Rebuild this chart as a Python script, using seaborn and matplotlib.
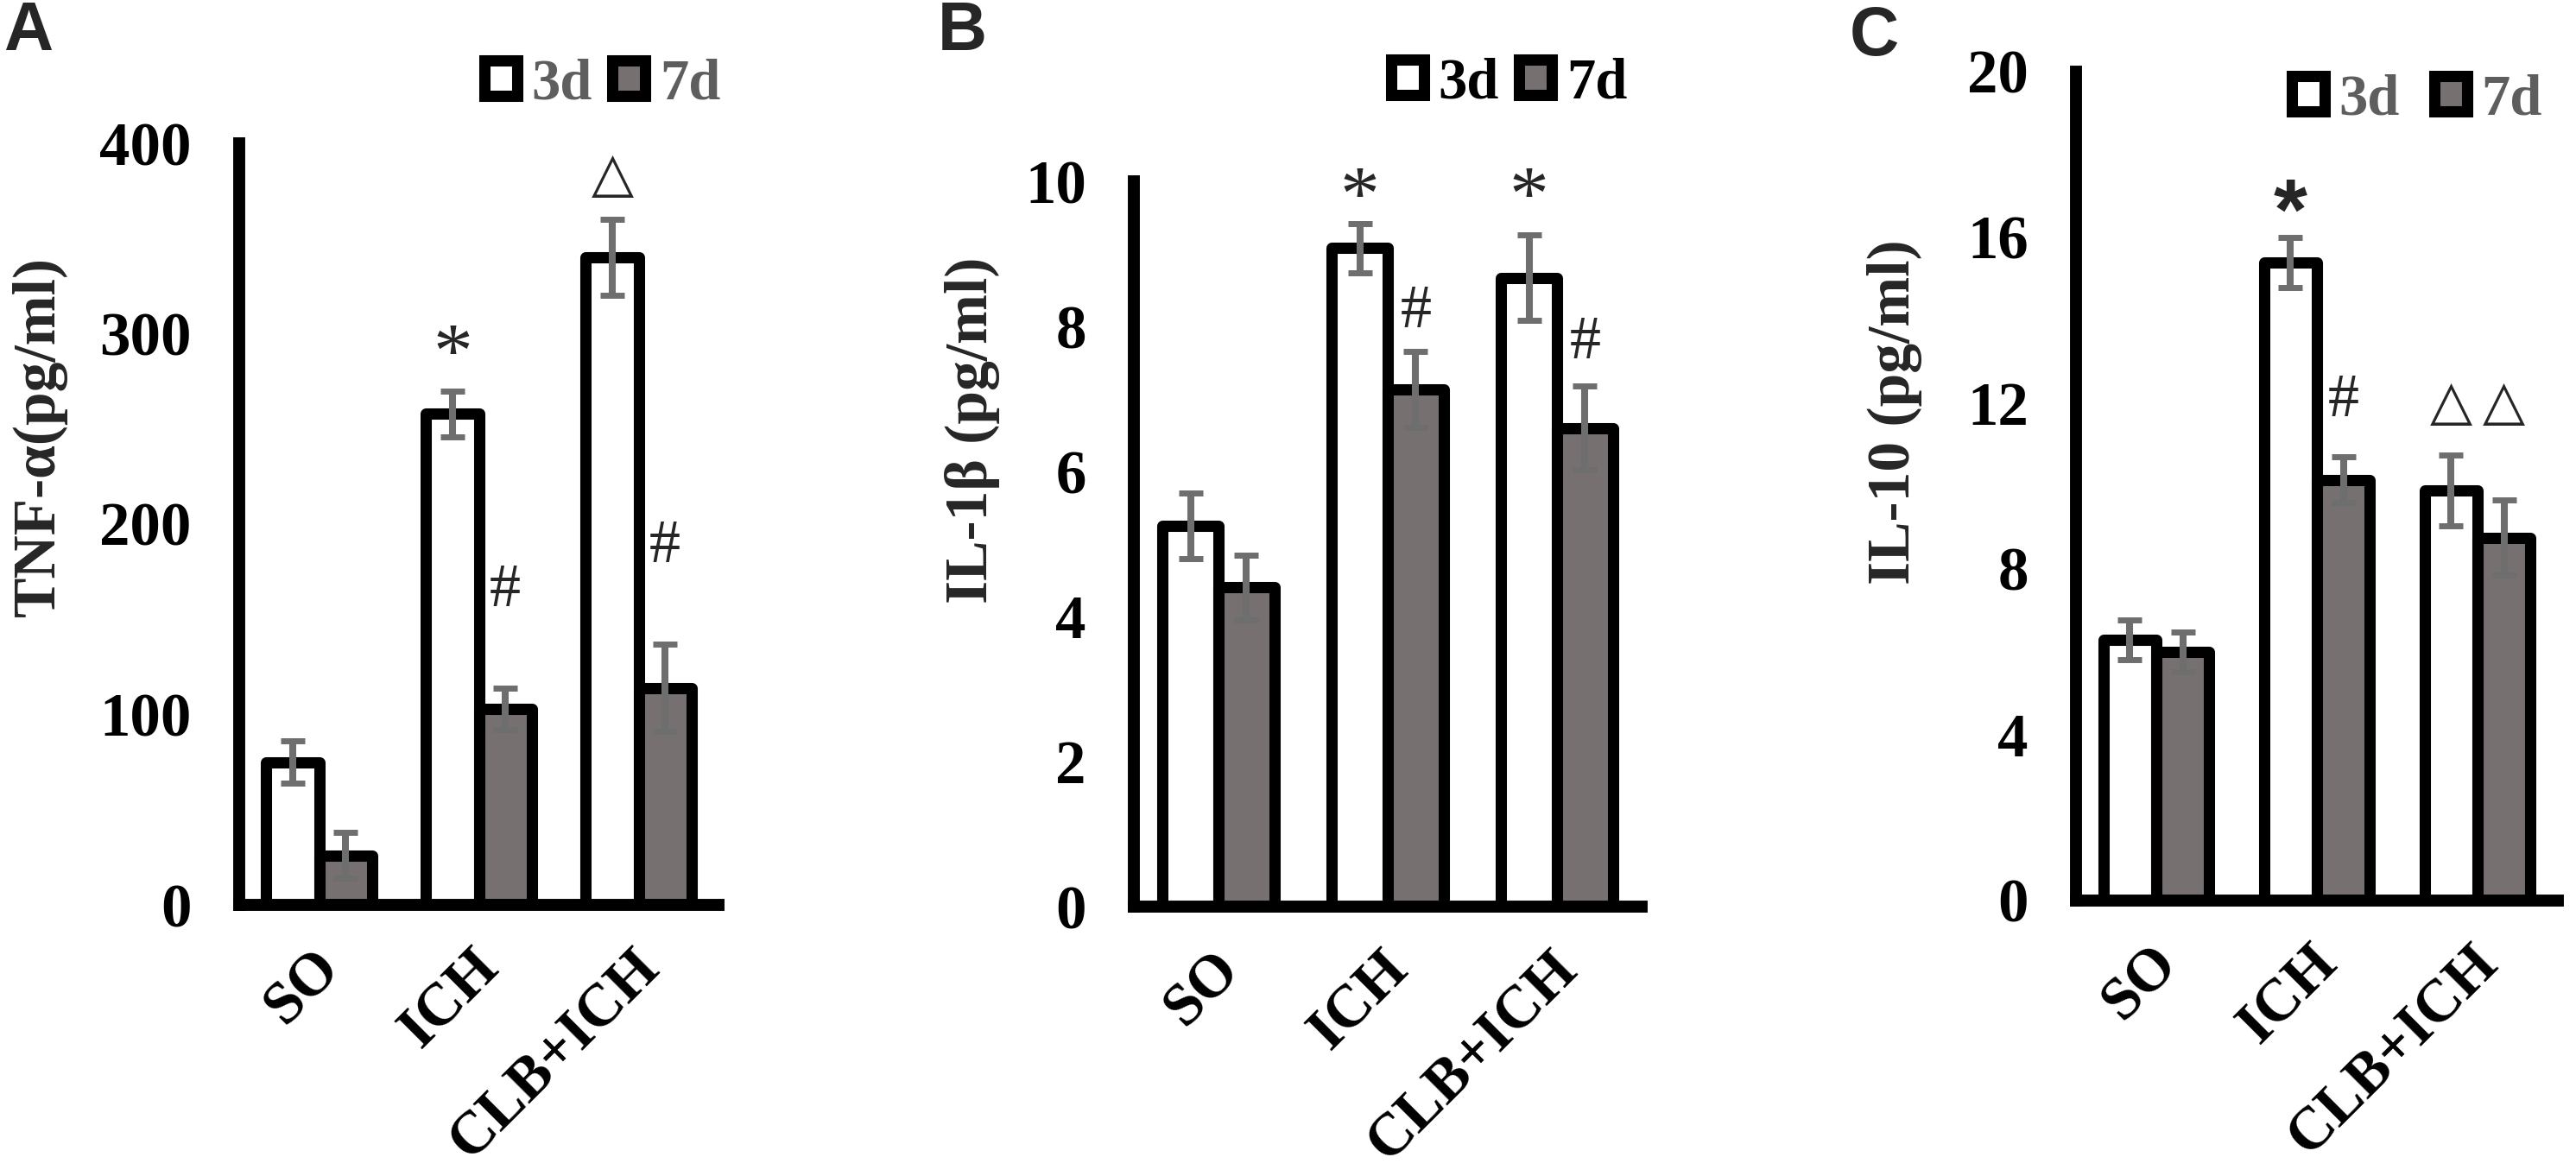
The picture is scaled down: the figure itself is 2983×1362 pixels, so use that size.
import numpy as np
import pandas as pd
import matplotlib
matplotlib.use('Agg')
import matplotlib.pyplot as plt
import seaborn as sns
from matplotlib.patches import Patch
from matplotlib.ticker import FixedLocator
from matplotlib.font_manager import FontProperties
from matplotlib.transforms import ScaledTranslation

# ---------------- data ----------------
groups = ['SO', 'ICH', 'CLB+ICH']
times = ['3d', '7d']

tnf_3d = [75, 258, 340]
tnf_3d_err = [11, 12, 20]
tnf_7d = [26, 103, 114]
tnf_7d_err = [12, 11, 23]

il1b_3d = [5.25, 9.08, 8.67]
il1b_3d_err = [0.45, 0.34, 0.59]
il1b_7d = [4.40, 7.13, 6.60]
il1b_7d_err = [0.45, 0.52, 0.58]

il10_3d = [6.30, 15.40, 9.90]
il10_3d_err = [0.48, 0.60, 0.85]
il10_7d = [6.00, 10.15, 8.76]
il10_7d_err = [0.47, 0.55, 0.90]

y_labels = ['TNF-α(pg/ml)', 'IL-1β (pg/ml)', 'IL-10 (pg/ml)']
y_ticks_a = [0, 100, 200, 300, 400]
y_ticks_b = [0, 2, 4, 6, 8, 10]
y_ticks_c = [0, 4, 8, 12, 16, 20]
panel_letters = ['A', 'B', 'C']

# significance marks: (group, time, symbol, height in data units)
marks_a = [('ICH', '3d', '*', 287), ('ICH', '7d', '#', 165),
           ('CLB+ICH', '3d', '△', 383), ('CLB+ICH', '7d', '#', 188)]
marks_b = [('ICH', '3d', '*', 9.73), ('CLB+ICH', '3d', '*', 9.73),
           ('ICH', '7d', '#', 8.2), ('CLB+ICH', '7d', '#', 7.77)]
marks_c = [('ICH', '3d', '*', 16.5), ('ICH', '7d', '#', 12.06),
           ('CLB+ICH', '3d', '△', 12.0), ('CLB+ICH', '7d', '△', 12.0)]

# ---------------- style ----------------
sns.set_theme(style='white')
plt.rcParams['font.family'] = ['Liberation Serif', 'DejaVu Sans']

GRAY = '#767070'
ERR = '#6e6e6e'
BAR_LW = 9.4
SPINE_LW = 10
TICK_FS = 51
XLAB_FS = 50
LAB_FS = 50
LEG_FS = 48

fig = plt.figure(figsize=(29.83, 13.62), dpi=100)
W, H = 2983, 1362

# axes placement (pixels: left, right, bottom, top)
boxes = [(277, 832, 1048, 166), (1313, 1901, 1050, 210), (2404, 2962, 1043, 83)]
ylab_pos = [(46, 506), (1126, 498), (2194, 477)]
letter_pos = [(4, 0), (1086, 0), (2142, 6)]
legend_pos = [(561, 98, '#5e5e5e'), (1611, 97, 'black'), (2654, 116, '#5e5e5e')]

panels = [
    (tnf_3d, tnf_3d_err, tnf_7d, tnf_7d_err, y_ticks_a, marks_a),
    (il1b_3d, il1b_3d_err, il1b_7d, il1b_7d_err, y_ticks_b, marks_b),
    (il10_3d, il10_3d_err, il10_7d, il10_7d_err, y_ticks_c, marks_c),
]

label_shift = ScaledTranslation(14 / 100, -27 / 100, fig.dpi_scale_trans)

for i, (v3, e3, v7, e7, yt, marks) in enumerate(panels):
    l, r, b, t = boxes[i]
    ax = fig.add_axes([l / W, 1 - b / H, (r - l) / W, (b - t) / H])
    df = pd.DataFrame({'group': groups * 2,
                       'time': ['3d'] * 3 + ['7d'] * 3,
                       'value': list(v3) + list(v7)})
    errs = {('3d', g): e for g, e in zip(groups, e3)}
    errs.update({('7d', g): e for g, e in zip(groups, e7)})
    sns.barplot(data=df, x='group', y='value', hue='time', order=groups,
                hue_order=times, palette={'3d': 'white', '7d': GRAY},
                edgecolor='black', linewidth=BAR_LW, width=0.66, gap=0,
                errorbar=None, saturation=1, legend=False, ax=ax)
    centers = {}
    for bar in ax.patches:
        bar.set_joinstyle('round')
        xc = bar.get_x() + bar.get_width() / 2
        gi = int(round(xc))
        tm = '3d' if xc < gi else '7d'
        centers[(groups[gi], tm)] = xc
        ax.errorbar(xc, bar.get_height(), yerr=errs[(tm, groups[gi])], fmt='none',
                    ecolor=ERR, elinewidth=5.8, capsize=10, capthick=5, zorder=5)

    ax.set_xlim(-0.5, 2.5)
    ax.set_ylim(yt[0], yt[-1])
    for s in ['top', 'right']:
        ax.spines[s].set_visible(False)
    for s in ['left', 'bottom']:
        ax.spines[s].set_color('black')
        ax.spines[s].set_linewidth(SPINE_LW)
        ax.spines[s].set_zorder(6)
    ax.tick_params(axis='both', which='both', direction='out', length=13.7,
                   width=8.6, color='black', labelcolor='black')
    ax.tick_params(axis='y', pad=26)
    ax.tick_params(axis='x', pad=12)
    ax.set_facecolor('none')

    ax.set_yticks(yt)
    ax.set_yticklabels([str(v) for v in yt], fontsize=TICK_FS, fontweight='bold')
    ax.set_xticks(range(3))
    ax.set_xticklabels(groups, rotation=45, ha='right', va='center',
                       rotation_mode='anchor', fontsize=XLAB_FS, fontweight='bold')
    ax.xaxis.set_minor_locator(FixedLocator([2.5]))
    for tick in ax.xaxis.get_major_ticks():
        tick.label1.set_transform(tick.label1.get_transform() + label_shift)
    ax.set_xlabel('')
    ax.set_ylabel(y_labels[i], fontsize=LAB_FS, fontweight='bold')
    ax.yaxis.label.set_va('center')
    ax.yaxis.set_label_coords(ylab_pos[i][0] / W, 1 - ylab_pos[i][1] / H,
                              transform=fig.transFigure)

    for g, tm, sym, yv in marks:
        if sym == '*' and i == 2:
            ax.text(centers[(g, tm)], yv, sym, ha='center', va='center',
                    fontsize=72, fontweight='bold', family='Liberation Sans', zorder=7)
        elif sym == '△':
            ax.text(centers[(g, tm)], yv, sym, ha='center', va='center',
                    fontsize=46, family=['DejaVu Sans'], zorder=7)
        elif sym == '*':
            ax.text(centers[(g, tm)], yv, sym, ha='center', va='center',
                    fontsize=66, family=['Liberation Serif'], zorder=7)
        else:
            ax.text(centers[(g, tm)], yv, sym, ha='center', va='center',
                    fontsize=52, family=['Liberation Serif'], zorder=7)

    handles = [Patch(facecolor='white', edgecolor='black', linewidth=BAR_LW, joinstyle='round'),
               Patch(facecolor=GRAY, edgecolor='black', linewidth=BAR_LW, joinstyle='round')]
    lx, ly, lc = legend_pos[i]
    ax.legend(handles, times, loc='center left', bbox_to_anchor=(lx / W, 1 - ly / H),
              bbox_transform=fig.transFigure, ncol=2, frameon=False,
              handlelength=0.57, handleheight=0.57, handletextpad=0.25,
              columnspacing=0.35 if i < 2 else 0.6, borderpad=0, borderaxespad=0,
              prop=FontProperties(family='Liberation Serif', weight='bold', size=LEG_FS),
              labelcolor=lc)

    lxp, lyp = letter_pos[i]
    fig.text(lxp / W, 1 - lyp / H, panel_letters[i], ha='left', va='top',
             fontsize=57, fontweight='bold', family='Liberation Sans')

fig.savefig('out.png', dpi=100)
